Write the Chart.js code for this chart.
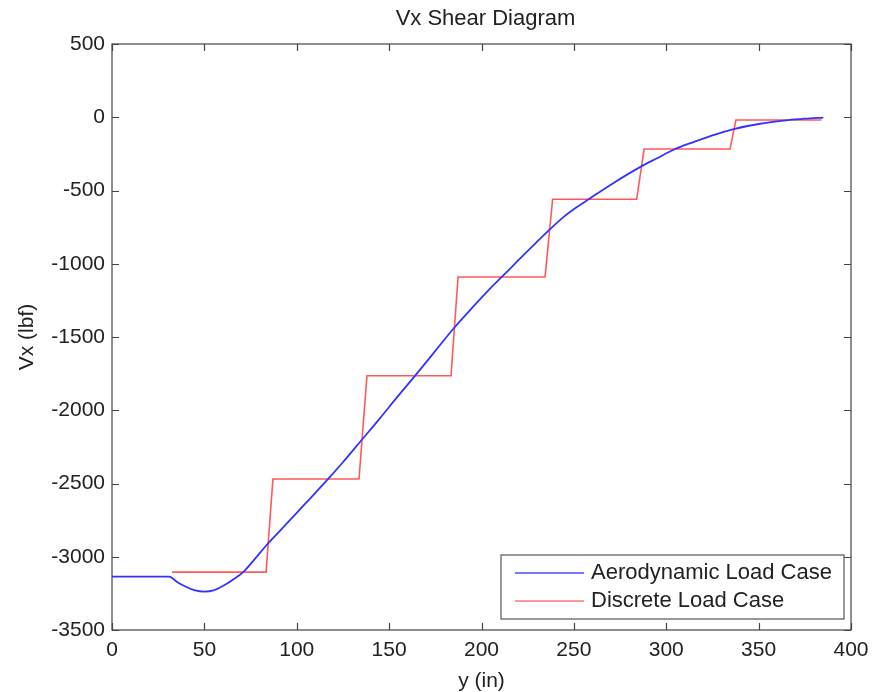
<!DOCTYPE html>
<html>
<head>
<meta charset="utf-8">
<script src="https://cdn.jsdelivr.net/npm/chart.js@4"></script>
<style>
  body { margin: 0; background: #fff; }
  canvas { display: block; }
</style>
</head>
<body>
<canvas id="shear" width="877" height="692"></canvas>
<script>
// Vx shear diagram
var aeroY = [0, 31, 35, 40, 45, 50, 55, 60, 65, 71, 77, 83, 90, 100, 110, 117, 125, 135, 145, 155,
             164, 175, 185, 195, 205, 211, 220, 230, 237, 245, 252, 258, 270, 287, 295, 304, 315, 325, 336, 350, 366, 375, 385];
var aeroVx = [-3135, -3135, -3170, -3205, -3230, -3238, -3230, -3200, -3160, -3105, -3020, -2930, -2835, -2700, -2565, -2469, -2355, -2205, -2055, -1900,
              -1765, -1595, -1440, -1300, -1165, -1090, -975, -850, -765, -675, -610, -560, -460, -332, -280, -222, -168, -123, -82, -46, -20, -10, -2];

var discY = [32.5, 83.4, 87.1, 133.7, 138, 183.5, 187.3, 234.4, 238.5, 284, 288, 334.5, 337.7, 384];
var discVx = [-3105, -3105, -2469, -2469, -1765, -1765, -1090, -1090, -560, -560, -217, -217, -19, -19];

var xTicks = {min: 0, max: 400, step: 50};
var yTicks = {min: -3500, max: 500, step: 500};

function pts(xs, ys) {
  var out = [];
  for (var i = 0; i < xs.length; i++) out.push({x: xs[i], y: ys[i]});
  return out;
}

var FONT = "'Liberation Sans', Arial, sans-serif";

// title, box, inward ticks and legend like the matlab figure
var boxPlugin = {
  id: 'boxPlugin',
  afterDraw: function(chart) {
    var ctx = chart.ctx;
    var a = chart.chartArea;
    var xs = chart.scales.x, ys = chart.scales.y;
    ctx.save();
    ctx.fillStyle = '#222';
    ctx.font = '22px ' + FONT;
    ctx.textAlign = 'center';
    ctx.textBaseline = 'middle';
    ctx.fillText('Vx Shear Diagram', (a.left + a.right) / 2 + 4, 19);

    ctx.strokeStyle = '#444';
    ctx.lineWidth = 1.2;
    ctx.strokeRect(a.left, a.top, a.right - a.left, a.bottom - a.top);
    var len = 7;
    ctx.beginPath();
    xs.ticks.forEach(function(t) {
      var px = Math.round(xs.getPixelForValue(t.value)) + 0.5;
      ctx.moveTo(px, a.bottom); ctx.lineTo(px, a.bottom - len);
      ctx.moveTo(px, a.top); ctx.lineTo(px, a.top + len);
    });
    ys.ticks.forEach(function(t) {
      var py = Math.round(ys.getPixelForValue(t.value)) + 0.5;
      ctx.moveTo(a.left, py); ctx.lineTo(a.left + len, py);
      ctx.moveTo(a.right, py); ctx.lineTo(a.right - len, py);
    });
    ctx.stroke();

    // legend
    var lx = a.right - 350, ly = a.bottom - 75, lw = 343, lh = 64;
    ctx.fillStyle = '#fff';
    ctx.fillRect(lx, ly, lw, lh);
    ctx.strokeStyle = '#555';
    ctx.lineWidth = 1.2;
    ctx.strokeRect(lx, ly, lw, lh);
    ctx.font = '22px ' + FONT;
    ctx.textAlign = 'left';
    ctx.textBaseline = 'middle';
    chart.data.datasets.forEach(function(ds, i) {
      var yy = ly + 18 + i * 28;
      ctx.strokeStyle = ds.legendColor;
      ctx.lineWidth = 2;
      ctx.beginPath();
      ctx.moveTo(lx + 14, yy); ctx.lineTo(lx + 83, yy);
      ctx.stroke();
      ctx.fillStyle = '#222';
      ctx.fillText(ds.label, lx + 90, yy);
    });
    ctx.restore();
  }
};

function plain(v) { return String(v); }

new Chart(document.getElementById('shear'), {
  type: 'scatter',
  data: {
    datasets: [
      {label: 'Aerodynamic Load Case', data: pts(aeroY, aeroVx), showLine: true, borderColor: '#3333ff',
       legendColor: '#7777ff', borderWidth: 1.8, pointRadius: 0, cubicInterpolationMode: 'monotone'},
      {label: 'Discrete Load Case', data: pts(discY, discVx), showLine: true, borderColor: '#ff5a5a',
       legendColor: '#ff9a9a', borderWidth: 1.6, pointRadius: 0, tension: 0}
    ]
  },
  options: {
    responsive: false,
    animation: false,
    layout: {padding: {top: 44, right: 26, bottom: 0, left: 0}},
    plugins: {
      legend: {display: false},
      tooltip: {enabled: false},
      title: {display: false}
    },
    scales: {
      x: {
        type: 'linear',
        min: xTicks.min, max: xTicks.max,
        afterFit: function(s) { s.height = 62; },
        grid: {display: false, drawTicks: false},
        border: {display: false},
        ticks: {stepSize: xTicks.step, padding: 8, color: '#222', font: {family: FONT, size: 21}, callback: plain},
        title: {display: true, text: 'y (in)', color: '#222', font: {family: FONT, size: 21, lineHeight: 1.0}, padding: {top: 0, bottom: 0}}
      },
      y: {
        type: 'linear',
        min: yTicks.min, max: yTicks.max,
        afterFit: function(s) { s.width = 112; },
        grid: {display: false, drawTicks: false},
        border: {display: false},
        ticks: {stepSize: yTicks.step, padding: 7, color: '#222', font: {family: FONT, size: 21}, callback: plain},
        title: {display: true, text: 'Vx (lbf)', color: '#222', font: {family: FONT, size: 21}, padding: {top: 15, bottom: 0}}
      }
    }
  },
  plugins: [boxPlugin]
});
</script>
</body>
</html>
